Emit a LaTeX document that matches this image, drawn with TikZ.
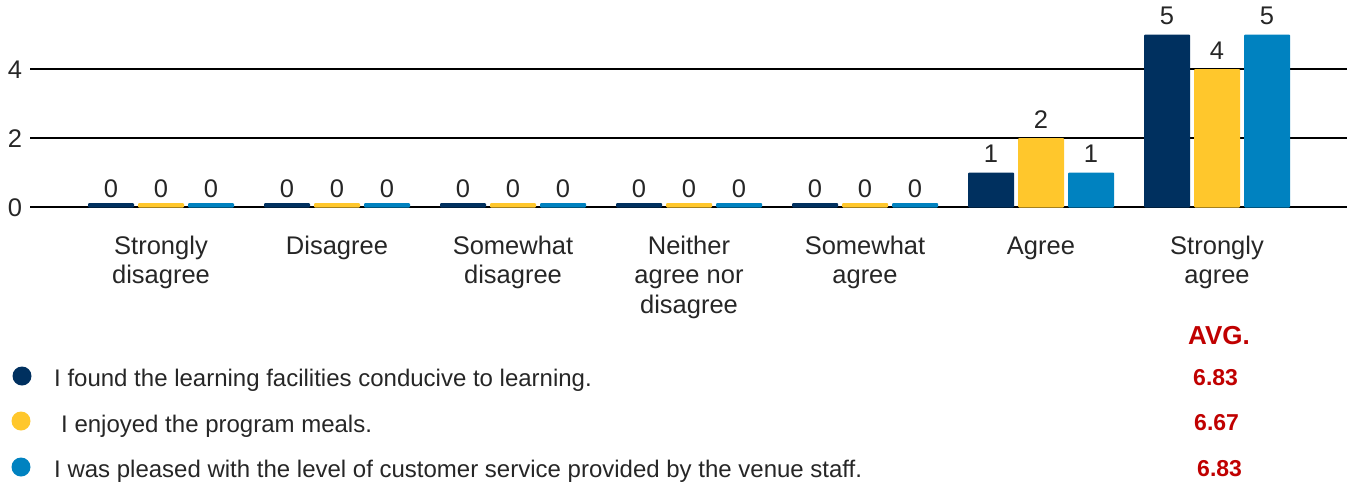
\documentclass[tikz,border=0pt]{standalone}
\usepackage{fontspec}
\setmainfont{Liberation Sans}
\definecolor{navy}{HTML}{00305F}
\definecolor{gold}{HTML}{FFC72C}
\definecolor{sky}{HTML}{0082C0}
\definecolor{avgred}{HTML}{C00000}
\definecolor{txt}{HTML}{262626}
\begin{document}
\begin{tikzpicture}[x=1pt,y=-1pt,
  gridline/.style={line width=2pt, black},
  barshape/.style={rounded corners=1pt},
  num/.style={anchor=base, inner sep=0pt, text=txt, font=\fontsize{25.5}{30}\selectfont},
  catlabel/.style={anchor=base, inner sep=0pt, align=center, text=txt, font=\fontsize{25.5}{29.5}\selectfont},
  legtext/.style={anchor=base west, inner sep=0pt, text=txt, font=\fontsize{24}{29}\selectfont},
  legdot/.style={circle, inner sep=0pt, minimum size=19pt},
  avgnum/.style={anchor=base west, inner sep=0pt, text=avgred, font=\fontsize{23}{27}\selectfont\bfseries}]
\useasboundingbox (0,0) rectangle (1355,483);
% grid
\draw[gridline] (30,69) -- (1347,69);
\draw[gridline] (30,138) -- (1347,138);
\draw[gridline] (30,207) -- (1347,207);
\node[num] (y4) at (15,78) {4};
\node[num] (y2) at (15,147) {2};
\node[num] (y0) at (15,216) {0};
% bars
\foreach \g/\a/\b/\c in {0/0/0/0,1/0/0/0,2/0/0/0,3/0/0/0,4/0/0/0,5/1/2/1,6/5/4/5}{
  \pgfmathsetmacro\xa{88+176*\g}
  \pgfmathsetmacro\xb{138+176*\g}
  \pgfmathsetmacro\xc{188+176*\g}
  \pgfmathsetmacro\ha{max(34.5*\a,4)}
  \pgfmathsetmacro\hb{max(34.5*\b,4)}
  \pgfmathsetmacro\hc{max(34.5*\c,4)}
  \fill[navy,barshape] (\xa,207.5) rectangle ({\xa+46},{207-\ha});
  \fill[gold,barshape] (\xb,207.5) rectangle ({\xb+46},{207-\hb});
  \fill[sky,barshape] (\xc,207.5) rectangle ({\xc+46},{207-\hc});
  \node[num] (va\g) at ({\xa+23},{197-34.5*\a}) {\a};
  \node[num] (vb\g) at ({\xb+23},{197-34.5*\b}) {\b};
  \node[num] (vc\g) at ({\xc+23},{197-34.5*\c}) {\c};
}
% category labels (anchor = baseline of last line)
\node[catlabel] (c0) at (161,283.5) {Strongly\\disagree};
\node[catlabel] (c1) at (337,254) {Disagree};
\node[catlabel] (c2) at (513,283.5) {Somewhat\\disagree};
\node[catlabel] (c3) at (689,313) {Neither\\agree nor\\disagree};
\node[catlabel] (c4) at (865,283.5) {Somewhat\\agree};
\node[catlabel] (c5) at (1041,254) {Agree};
\node[catlabel] (c6) at (1217,283.5) {Strongly\\agree};
% legend
\node[legdot, fill=navy] (d1) at (22,376) {};
\node[legdot, fill=gold] (d2) at (21,421) {};
\node[legdot, fill=sky] (d3) at (21,467) {};
\node[legtext] (l1) at (54,386) {I found the learning facilities conducive to learning.};
\node[legtext] (l2) at (61,432) {I enjoyed the program meals.};
\node[legtext] (l3) at (54,477) {I was pleased with the level of customer service provided by the venue staff.};
% averages
\node[anchor=base, inner sep=0pt, text=avgred, font=\fontsize{26}{30}\selectfont\bfseries] (avg) at (1219,344) {AVG.};
\node[avgnum] (a1) at (1193,385) {6.83};
\node[avgnum] (a2) at (1194,430) {6.67};
\node[avgnum] (a3) at (1197,476) {6.83};
\end{tikzpicture}
\end{document}
